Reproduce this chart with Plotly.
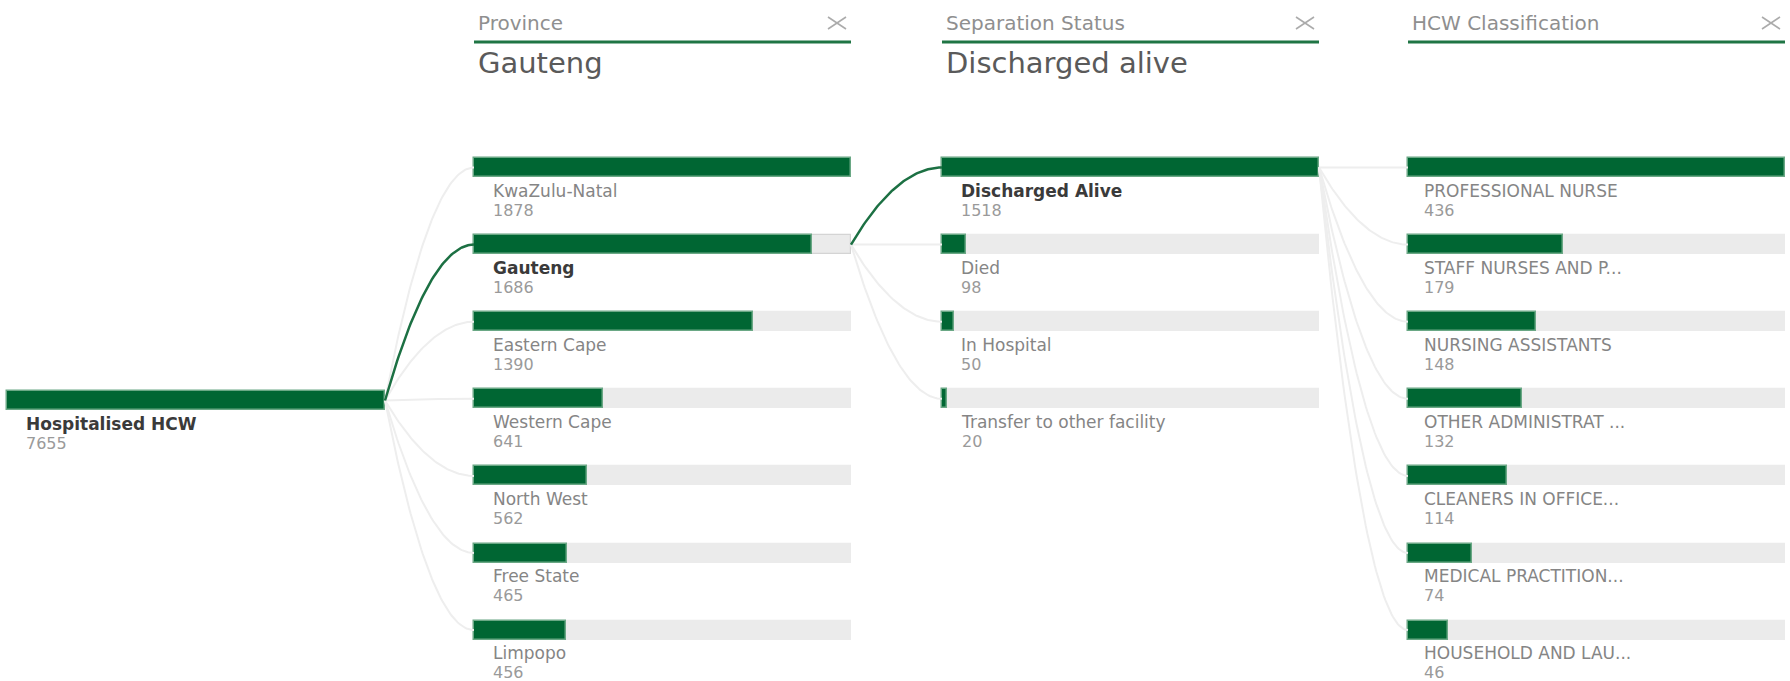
import plotly.graph_objects as go
import numpy as np

# ---------------- data ----------------
root_label = "Hospitalised HCW"
root_value = 7655

level_titles = ["Province", "Separation Status", "HCW Classification"]
level_selected = ["Gauteng", "Discharged alive", ""]

provinces = ["KwaZulu-Natal", "Gauteng", "Eastern Cape", "Western Cape",
             "North West", "Free State", "Limpopo"]
province_values = [1878, 1686, 1390, 641, 562, 465, 456]

sep_status = ["Discharged Alive", "Died", "In Hospital", "Transfer to other facility"]
sep_values = [1518, 98, 50, 20]

hcw_classes = ["PROFESSIONAL NURSE", "STAFF NURSES AND P...", "NURSING ASSISTANTS",
               "OTHER ADMINISTRAT ...", "CLEANERS IN OFFICE...", "MEDICAL PRACTITION...",
               "HOUSEHOLD AND LAU..."]
hcw_values = [436, 179, 148, 132, 114, 74, 46]

selected_province = 1
selected_sep = 0

# ---------------- layout constants ----------------
W, H = 1790, 681
col_x = [7, 474, 942, 1408]
col_w = 377
row0 = 167.5
pitch = 77.1
root_y = 400.5
bar_h = 19

DARK = "#006633"
EDGE = "#6aa885"
TRACK = "#ebebeb"
LINK = "#eeeeee"
LINKSEL = "#1c7043"
FONT = "DejaVu Sans"
NAME_SIZE = 17
VAL_SIZE = 16
BASE_SIZE = 14.9   # sets the line spacing (1.3 x) between name and value

fig = go.Figure()


def bezier(x0, y0, x1, y1, n=60):
    t = np.linspace(0, 1, n)
    cx, cy = (x0 + x1) / 2, y1
    xs = (1 - t) ** 2 * x0 + 2 * t * (1 - t) * cx + t ** 2 * x1
    ys = (1 - t) ** 2 * y0 + 2 * t * (1 - t) * cy + t ** 2 * y1
    return xs, ys


def node_text(name, value, selected):
    if selected:
        n = (f'<span style="font-size:{NAME_SIZE}px;color:#3a3a3a">'
             f'<b>{name}</b></span>')
    else:
        n = f'<span style="font-size:{NAME_SIZE}px;color:#858585">{name}</span>'
    v = f'<span style="font-size:{VAL_SIZE}px;color:#9a9a9a">{value}</span>'
    return n + "<br>" + v


levels = [
    (provinces, province_values),
    (sep_status, sep_values),
    (hcw_classes, hcw_values),
]

parents = [
    (col_x[0] + col_w + 1, root_y, selected_province),
    (col_x[1] + col_w, row0 + pitch * selected_province, selected_sep),
    (col_x[2] + col_w, row0 + pitch * selected_sep, None),
]

# connectors (grey first, selected on top)
sel_links = []
for li, (names, vals) in enumerate(levels):
    px, py, sel = parents[li]
    for i in range(len(names)):
        yc = row0 + pitch * i
        xs, ys = bezier(px, py, col_x[li + 1], yc)
        if sel is not None and i == sel:
            sel_links.append((xs, ys))
            continue
        fig.add_trace(go.Scatter(x=xs, y=ys, mode="lines",
                                 line=dict(color=LINK, width=2),
                                 hoverinfo="skip", showlegend=False))
for xs, ys in sel_links:
    fig.add_trace(go.Scatter(x=xs, y=ys, mode="lines",
                             line=dict(color=LINKSEL, width=2.5),
                             hoverinfo="skip", showlegend=False))

# root bar
fig.add_trace(go.Bar(x=[col_w + 1], y=[root_y], base=[col_x[0]], orientation="h",
                     width=bar_h, marker=dict(color=DARK, line=dict(color=EDGE, width=1.5)),
                     hoverinfo="skip", showlegend=False))

annotations = []
annotations.append(dict(x=col_x[0] + 17, y=root_y + 32.5,
                        text=node_text(root_label, root_value, True),
                        showarrow=False, xanchor="left", yanchor="middle", align="left",
                        font=dict(family=FONT, size=BASE_SIZE, color="#3a3a3a")))

shapes = []
for li, (names, vals) in enumerate(levels):
    x0 = col_x[li + 1]
    vmax = max(vals)
    ys = [row0 + pitch * i for i in range(len(names))]
    sel = parents[li][2]
    is_sel_path = [False] * len(names)
    if li == 0:
        is_sel_path[selected_province] = True
    elif li == 1:
        is_sel_path[selected_sep] = True
    track_lines = ["#d4d4d4" if (sel is not None and i == sel) else TRACK for i in range(len(names))]
    fig.add_trace(go.Bar(x=[col_w] * len(names), y=ys, base=[x0] * len(names), orientation="h",
                         width=bar_h, marker=dict(color=TRACK, line=dict(color=track_lines, width=1.2)),
                         hoverinfo="skip", showlegend=False))
    fig.add_trace(go.Bar(x=[v / vmax * col_w for v in vals], y=ys, base=[x0] * len(names),
                         orientation="h", width=bar_h,
                         marker=dict(color=DARK, line=dict(color=EDGE, width=1.5)),
                         hoverinfo="skip", showlegend=False))
    for i, (n, v) in enumerate(zip(names, vals)):
        lx = x0 + (14 if li == 2 else 17)
        annotations.append(dict(x=lx, y=ys[i] + 32.5, text=node_text(n, v, is_sel_path[i]),
                                showarrow=False, xanchor="left", yanchor="middle", align="left",
                                font=dict(family=FONT, size=BASE_SIZE, color="#858585")))
    # header
    annotations.append(dict(x=x0 + 2, y=23, text=level_titles[li], showarrow=False,
                            xanchor="left", yanchor="middle",
                            font=dict(family=FONT, size=20, color="#8f8f8f")))
    cx = x0 + col_w - 14
    for sx in (-1, 1):
        shapes.append(dict(type="line", x0=cx - 9, x1=cx + 9, y0=23 - 6 * sx, y1=23 + 6 * sx,
                           line=dict(color="#ababab", width=1.6)))
    if level_selected[li]:
        annotations.append(dict(x=x0 + 2, y=63, text=level_selected[li], showarrow=False,
                                xanchor="left", yanchor="middle",
                                font=dict(family=FONT, size=29, color="#5a5a5a")))
    shapes.append(dict(type="line", x0=x0, x1=x0 + col_w, y0=42, y1=42,
                       line=dict(color="#1f7544", width=3)))

fig.update_layout(
    width=W, height=H, margin=dict(l=0, r=0, t=0, b=0),
    paper_bgcolor="white", plot_bgcolor="white",
    barmode="overlay", bargap=0,
    xaxis=dict(range=[0, W], visible=False, fixedrange=True),
    yaxis=dict(range=[H, 0], visible=False, fixedrange=True),
    annotations=annotations, shapes=shapes,
)

fig.write_html("out.html")
